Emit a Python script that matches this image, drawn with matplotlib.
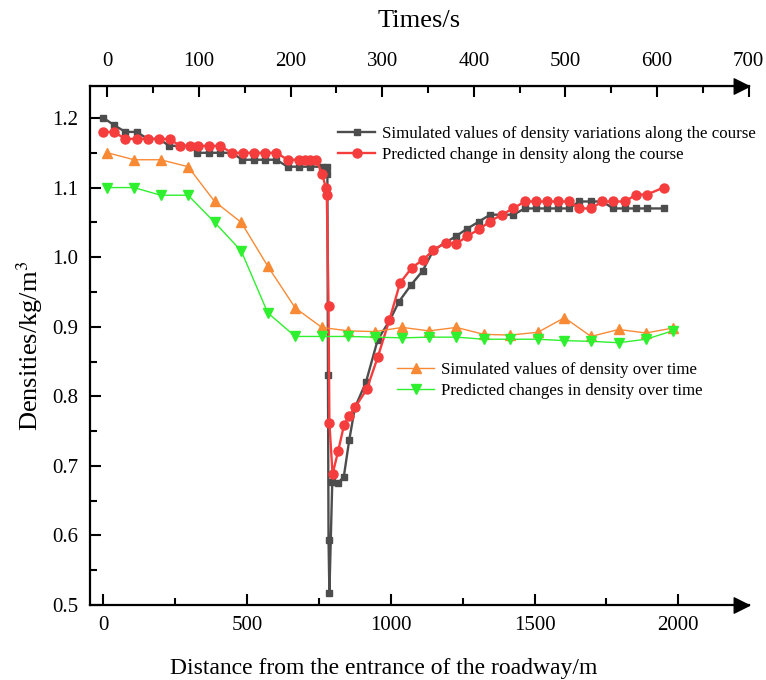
import numpy as np
import matplotlib
matplotlib.use('Agg')
import matplotlib.pyplot as plt
from matplotlib.path import Path
from matplotlib.ticker import MultipleLocator, FormatStrFormatter

plt.rcParams['font.family'] = ['Liberation Serif', 'DejaVu Serif']
plt.rcParams['mathtext.fontset'] = 'stix'

# density along the roadway (distance in m)
dist_sim = [0, 36, 76, 115, 154, 192, 229, 266, 307, 327, 367, 406, 446, 483, 523, 561, 601,
            641, 680, 718, 761, 776, 779, 781, 783, 786, 796, 817, 836, 855, 875, 913, 954,
            997, 1028, 1070, 1110, 1148, 1190, 1226, 1266, 1306, 1345, 1385, 1426, 1466, 1505,
            1543, 1582, 1620, 1656, 1697, 1735, 1774, 1815, 1853, 1891, 1949]
dens_sim = [1.20, 1.19, 1.18, 1.18, 1.17, 1.17, 1.16, 1.16, 1.16, 1.15, 1.15, 1.15, 1.15, 1.14, 1.14, 1.14, 1.14,
            1.13, 1.13, 1.13, 1.13, 1.13, 1.12, 0.83, 0.594, 0.517, 0.677, 0.676, 0.684, 0.737, 0.784, 0.82, 0.881,
            0.91, 0.936, 0.96, 0.98, 1.01, 1.021, 1.03, 1.041, 1.051, 1.061, 1.061, 1.061, 1.07, 1.07,
            1.07, 1.07, 1.07, 1.08, 1.08, 1.08, 1.07, 1.07, 1.07, 1.07, 1.07]

dist_pred = [0, 36, 76, 115, 154, 192, 230, 266, 300, 328, 367, 406, 446, 484, 523, 561, 601,
             641, 680, 700, 718, 740, 761, 773, 777, 783, 786, 797, 817, 837, 855, 875, 916, 954,
             995, 1032, 1073, 1111, 1148, 1190, 1226, 1266, 1306, 1344, 1385, 1426, 1466, 1505,
             1543, 1582, 1620, 1656, 1697, 1735, 1774, 1815, 1853, 1891, 1949]
dens_pred = [1.18, 1.18, 1.17, 1.17, 1.17, 1.17, 1.17, 1.16, 1.16, 1.16, 1.16, 1.16, 1.15, 1.15, 1.15, 1.15, 1.15,
             1.14, 1.14, 1.14, 1.14, 1.14, 1.12, 1.10, 1.09, 0.93, 0.762, 0.688, 0.722, 0.759, 0.772, 0.784, 0.81, 0.856,
             0.91, 0.963, 0.985, 0.996, 1.01, 1.021, 1.019, 1.03, 1.04, 1.051, 1.061, 1.07, 1.08, 1.08,
             1.08, 1.08, 1.08, 1.07, 1.07, 1.08, 1.08, 1.08, 1.09, 1.09, 1.10]

# density over time (s)
time_pts = [0, 29, 58, 88, 117, 146, 175, 205, 234, 263, 292, 322, 351, 381, 411, 440, 470, 499,
            528, 558, 588, 617]
dens_time_sim = [1.15, 1.14, 1.14, 1.13, 1.08, 1.05, 0.987, 0.927, 0.899, 0.894, 0.893, 0.899, 0.894,
                 0.899, 0.889, 0.888, 0.892, 0.913, 0.886, 0.896, 0.891, 0.898]
dens_time_pred = [1.10, 1.10, 1.089, 1.089, 1.05, 1.009, 0.92, 0.886, 0.886, 0.886, 0.885, 0.884, 0.885,
                  0.885, 0.882, 0.882, 0.882, 0.88, 0.879, 0.877, 0.882, 0.894]

W, H = 766, 680
fig = plt.figure(figsize=(W / 100, H / 100), dpi=100)
left, right, bottom, top = 89.5, 749, 605, 86
ax = fig.add_axes([left / W, 1 - bottom / H, (right - left) / W, (bottom - top) / H])

ax.plot(dist_sim, dens_sim, color='#4d4d4d', lw=1.7, marker='s', ms=5, zorder=3,
        label='Simulated values of density variations along the course')
ax.plot(dist_pred, dens_pred, color='#f53d3d', lw=1.7, marker='o', ms=6.5, zorder=4,
        label='Predicted change in density along the course')

ax.set_xlim(-48.7, 2246)
ax.set_ylim(0.5, 1.246)
ax.xaxis.set_major_locator(MultipleLocator(500))
ax.xaxis.set_minor_locator(MultipleLocator(250))
ax.yaxis.set_major_locator(MultipleLocator(0.1))
ax.yaxis.set_minor_locator(MultipleLocator(0.05))
ax.yaxis.set_major_formatter(FormatStrFormatter('%.1f'))
ax.tick_params(axis='both', which='both', direction='in', width=1.5, labelsize=15, top=False, right=False)
ax.tick_params(axis='both', which='major', length=8)
ax.tick_params(axis='both', which='minor', length=5)
ax.tick_params(axis='x', pad=8)
ax.tick_params(axis='y', pad=8)
ax.spines['right'].set_visible(False)
for s in ['left', 'bottom']:
    ax.spines[s].set_linewidth(1.6)
ax.set_xlabel('Distance from the entrance of the roadway/m', fontsize=17)
ax.xaxis.set_label_coords(0.4466, -0.103)
ax.set_ylabel('Densities/kg/m$^3$', fontsize=19)
ax.yaxis.set_label_coords(-0.068, 0.5)

ax2 = ax.twiny()
ax2.plot(time_pts, dens_time_sim, color='#f98a35', lw=1.0, marker='^', ms=7.5, zorder=3,
         label='Simulated values of density over time')
ax2.plot(time_pts, dens_time_pred, color='#2ff02f', lw=1.0, marker='v', ms=7.5, zorder=4,
         label='Predicted changes in density over time')
ax2.set_xlim(-19.65, 700.5)
ax2.xaxis.set_major_locator(MultipleLocator(100))
ax2.xaxis.set_minor_locator(MultipleLocator(50))
ax2.tick_params(axis='x', which='both', direction='in', width=1.5, labelsize=15, pad=11)
ax2.tick_params(axis='x', which='major', length=8)
ax2.tick_params(axis='x', which='minor', length=5)
ax2.spines['right'].set_visible(False)
ax2.spines['top'].set_linewidth(1.6)
ax2.spines['left'].set_visible(False)
ax2.spines['bottom'].set_visible(False)
ax2.set_xlabel('Times/s', fontsize=19, labelpad=18)

# arrow heads at the right end of both horizontal axes, tip at the axes edge
arrow = Path([(0, 0), (-1, 0.5), (-1, -0.5), (0, 0)],
             [Path.MOVETO, Path.LINETO, Path.LINETO, Path.CLOSEPOLY])
for yy in (0, 1):
    ax.plot([1], [yy], transform=ax.transAxes, marker=arrow, ms=22, color='black',
            clip_on=False, zorder=10)

h1, l1 = ax.get_legend_handles_labels()
h2, l2 = ax2.get_legend_handles_labels()
leg1 = fig.legend(h1, l1, loc='upper left', bbox_to_anchor=(338 / W, 1 - 126 / H), frameon=False,
                  fontsize=12.2, handlelength=2.2, handletextpad=0.4, borderpad=0, borderaxespad=0,
                  labelspacing=0.3)
leg2 = fig.legend(h2, l2, loc='upper left', bbox_to_anchor=(397 / W, 1 - 362 / H), frameon=False,
                  fontsize=12.2, handlelength=2.2, handletextpad=0.4, borderpad=0, borderaxespad=0,
                  labelspacing=0.3)

fig.savefig('out.png', dpi=100)
